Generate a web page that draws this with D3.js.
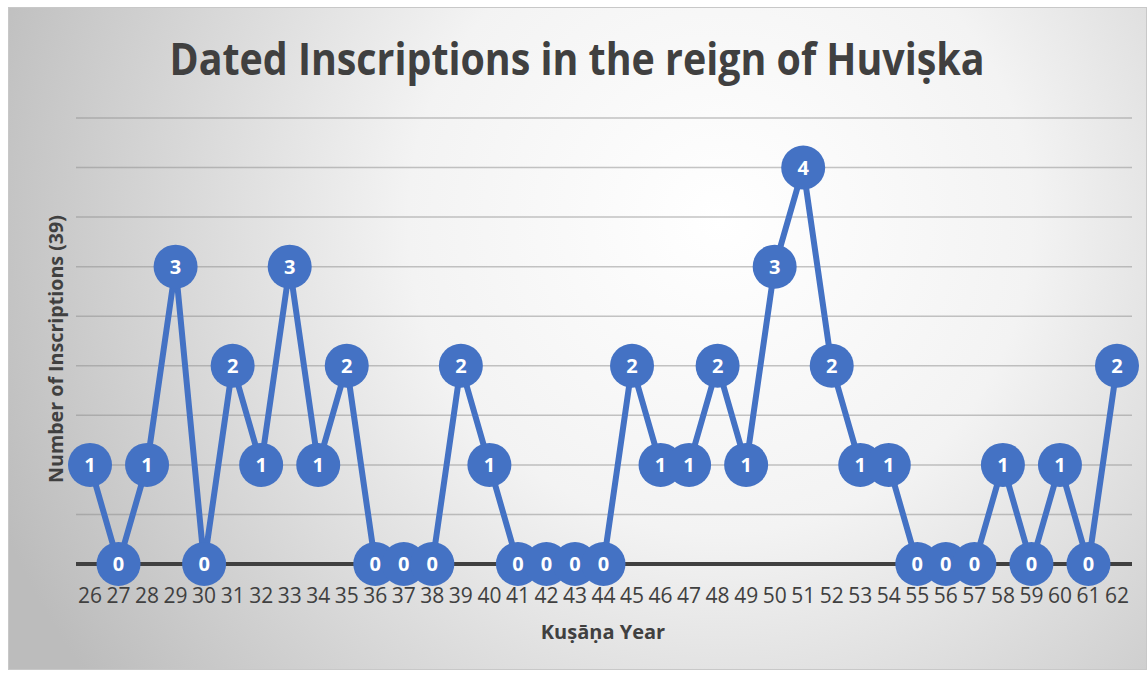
<!DOCTYPE html>
<html>
<head>
<meta charset="utf-8">
<title>Dated Inscriptions in the reign of Huviṣka</title>
<script src="https://cdn.jsdelivr.net/npm/d3@7"></script>
<style>
 body { margin: 0; background: #fff; }
 text { font-family: "Open Sans", "Noto Sans", sans-serif; }
</style>
</head>
<body>
<svg id="chart" width="1147" height="674"></svg>
<script>
// data
var years = [26,27,28,29,30,31,32,33,34,35,36,37,38,39,40,41,42,43,44,45,46,47,48,49,50,51,52,53,54,55,56,57,58,59,60,61,62];
var counts = [1,0,1,3,0,2,1,3,1,2,0,0,0,2,1,0,0,0,0,2,1,1,2,1,3,4,2,1,1,0,0,0,1,0,1,0,2];
var gridValues = [0.5,1,1.5,2,2.5,3,3.5,4,4.5];

var svg = d3.select("#chart");

// background gradient
var defs = svg.append("defs");
var grad = defs.append("radialGradient")
  .attr("id", "bg")
  .attr("gradientUnits", "userSpaceOnUse")
  .attr("cx", 720).attr("cy", 220).attr("r", 780);
grad.append("stop").attr("offset", "0%").attr("stop-color", "#ffffff");
grad.append("stop").attr("offset", "40%").attr("stop-color", "#f3f3f3");
grad.append("stop").attr("offset", "100%").attr("stop-color", "#bcbcbc");

svg.append("rect")
  .attr("x", 8.5).attr("y", 7.5)
  .attr("width", 1138).attr("height", 662)
  .attr("fill", "url(#bg)")
  .attr("stroke", "#c8c8c8");

var x = d3.scaleLinear().domain([26, 62]).range([90, 1117]);
var y = d3.scaleLinear().domain([0, 4.5]).range([564, 118]);

// gridlines
svg.append("g").selectAll("line")
  .data(gridValues)
  .enter().append("line")
  .attr("x1", 76).attr("x2", 1132)
  .attr("y1", function(d){ return y(d); })
  .attr("y2", function(d){ return y(d); })
  .attr("stroke", "#8c8c8c")
  .attr("stroke-opacity", 0.5)
  .attr("stroke-width", 1.5);

// zero line
svg.append("line")
  .attr("x1", 76).attr("x2", 1132)
  .attr("y1", y(0)).attr("y2", y(0))
  .attr("stroke", "#404040")
  .attr("stroke-width", 4);

// x tick labels
svg.append("g").selectAll("text")
  .data(years)
  .enter().append("text")
  .attr("x", function(d){ return x(d); })
  .attr("y", 603)
  .attr("text-anchor", "middle")
  .attr("font-size", 21)
  .attr("fill", "#404040")
  .text(function(d){ return d; });

// the series line
var line = d3.line()
  .x(function(d, i){ return x(years[i]); })
  .y(function(d){ return y(d); });

svg.append("path")
  .datum(counts)
  .attr("d", line)
  .attr("fill", "none")
  .attr("stroke", "#4472C4")
  .attr("stroke-width", 6)
  .attr("stroke-linejoin", "round");

// markers + value labels
var pts = svg.append("g").selectAll("g")
  .data(counts)
  .enter().append("g")
  .attr("transform", function(d, i){ return "translate(" + x(years[i]) + "," + y(d) + ")"; });

pts.append("circle")
  .attr("r", 22)
  .attr("fill", "#4472C4");

pts.append("text")
  .attr("y", 7)
  .attr("text-anchor", "middle")
  .attr("font-size", 20)
  .attr("font-weight", "bold")
  .attr("fill", "#ffffff")
  .text(function(d){ return d; });

// title
svg.append("text")
  .attr("x", 577).attr("y", 75)
  .attr("text-anchor", "middle")
  .attr("font-size", 45)
  .attr("font-weight", "bold")
  .attr("fill", "#404040")
  .attr("textLength", 815)
  .attr("lengthAdjust", "spacingAndGlyphs")
  .text("Dated Inscriptions in the reign of Huviṣka");

// axis titles
svg.append("text")
  .attr("x", 603).attr("y", 639)
  .attr("text-anchor", "middle")
  .attr("font-size", 20)
  .attr("font-weight", "bold")
  .attr("fill", "#404040")
  .text("Kuṣāṇa Year");

svg.append("text")
  .attr("transform", "translate(63,349) rotate(-90)")
  .attr("text-anchor", "middle")
  .attr("font-size", 20)
  .attr("font-weight", "bold")
  .attr("fill", "#404040")
  .attr("textLength", 268)
  .attr("lengthAdjust", "spacingAndGlyphs")
  .text("Number of Inscriptions (39)");
</script>
</body>
</html>
